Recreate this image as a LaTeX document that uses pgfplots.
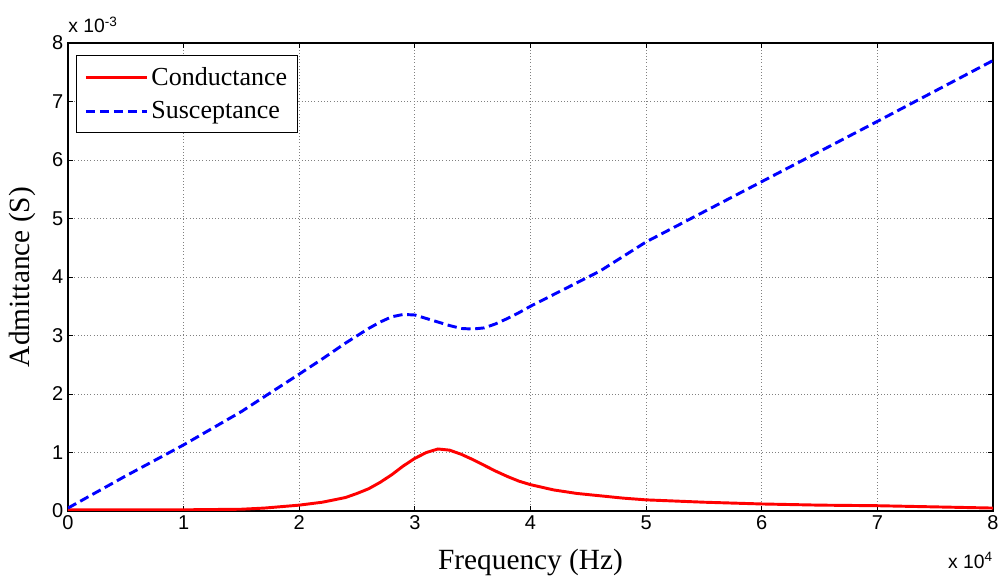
\documentclass[border=0pt]{standalone}
\usepackage{fontspec}
\setmainfont{Liberation Serif}
\newfontfamily\arial{Liberation Sans}
\usepackage{pgfplots}
\pgfplotsset{compat=1.18}
\begin{document}
\begin{tikzpicture}
\begin{axis}[
  scale only axis,
  width=693.75pt, height=351pt,
  xmin=0, xmax=80000, ymin=0, ymax=0.008,
  xtick distance=10000, ytick distance=0.001,
  scaled x ticks=base 10:-4,
  scaled y ticks=base 10:3,
  xtick scale label code/.code={\arial x 10\textsuperscript{#1}},
  ytick scale label code/.code={\arial x 10\textsuperscript{#1}},
  every x tick scale label/.style={at={(rel axis cs:1,0)}, anchor=north east, yshift=-31pt, inner sep=0pt, font=\arial\fontsize{14.5}{17}\selectfont},
  every y tick scale label/.style={at={(rel axis cs:0,1)}, anchor=base west, yshift=7.5pt, inner sep=0pt, font=\arial\fontsize{14.5}{17}\selectfont},
  /pgf/number format/assume math mode=true,
  ticklabel style={font=\arial\fontsize{15}{18}\selectfont},
  tick align=inside,
  major tick length=3.75pt,
  tick style={black, line width=0.6pt},
  axis line style={line width=0.8pt},
  grid=major,
  major grid style={gray, dotted, line width=0.6pt},
  xlabel={Frequency (Hz)},
  ylabel={Admittance (S)},
  label style={font=\fontsize{22}{26}\selectfont},
  xlabel style={at={(axis description cs:0.5,-0.111)}, anchor=center},
  ylabel style={at={(axis description cs:-0.0497,0.5)}, anchor=center},
  legend style={at={(axis description cs:0.0086,0.974)}, anchor=north west,
    draw=black, line width=0.8pt, font=\fontsize{19.5}{23}\selectfont,
    inner xsep=6pt, inner ysep=6.5pt, row sep=7pt,
    /tikz/every even column/.append style={column sep=6pt}},
  legend cell align=left,
  legend image code/.code={\draw[#1] (0pt,0pt) -- (46pt,0pt);},
]
\addplot[red, line width=2.2pt] coordinates {
  (0,0.00002) (5000,0.00002) (10000,0.00002) (15000,0.00003) (17000,0.00005)
  (20000,0.0001) (22000,0.00015) (24000,0.00023) (25000,0.0003) (26000,0.00038)
  (27000,0.00049) (28000,0.00062) (29000,0.00077) (30000,0.0009) (31000,0.001)
  (32000,0.00106) (33000,0.00104) (34000,0.00097) (35000,0.00088) (36000,0.00078)
  (37000,0.00068) (38000,0.00059) (39000,0.00051) (40000,0.00045) (42000,0.00036)
  (44000,0.0003) (46000,0.00026) (48000,0.00022) (50000,0.00019) (55000,0.00015)
  (60000,0.00012) (65000,0.0001) (70000,0.00009) (75000,0.00007) (80000,0.00005)
};
\addlegendentry{Conductance}
\addplot[blue, line width=2.2pt, dash pattern=on 7pt off 3.5pt] coordinates {
  (0,0.00005) (5000,0.0006) (10000,0.00113) (15000,0.0017) (20000,0.00234)
  (22000,0.0026) (24000,0.00287) (26000,0.00312) (27000,0.00323) (28000,0.00332)
  (29000,0.00336) (30000,0.00335) (31000,0.00329) (32000,0.00323) (33000,0.00317)
  (34000,0.00312) (35000,0.00311) (36000,0.00313) (37000,0.0032) (38000,0.00329)
  (39000,0.00339) (40000,0.0035) (42000,0.0037) (44000,0.0039) (46000,0.0041)
  (50000,0.0046) (60000,0.00563) (70000,0.00666) (80000,0.0077)
};
\addlegendentry{Susceptance}
\end{axis}
\pgfresetboundingbox
\path (current axis.south west) ++(-51pt,-52.5pt) rectangle ([xshift=6.75pt,yshift=32.25pt]current axis.north east);
\end{tikzpicture}
\end{document}
